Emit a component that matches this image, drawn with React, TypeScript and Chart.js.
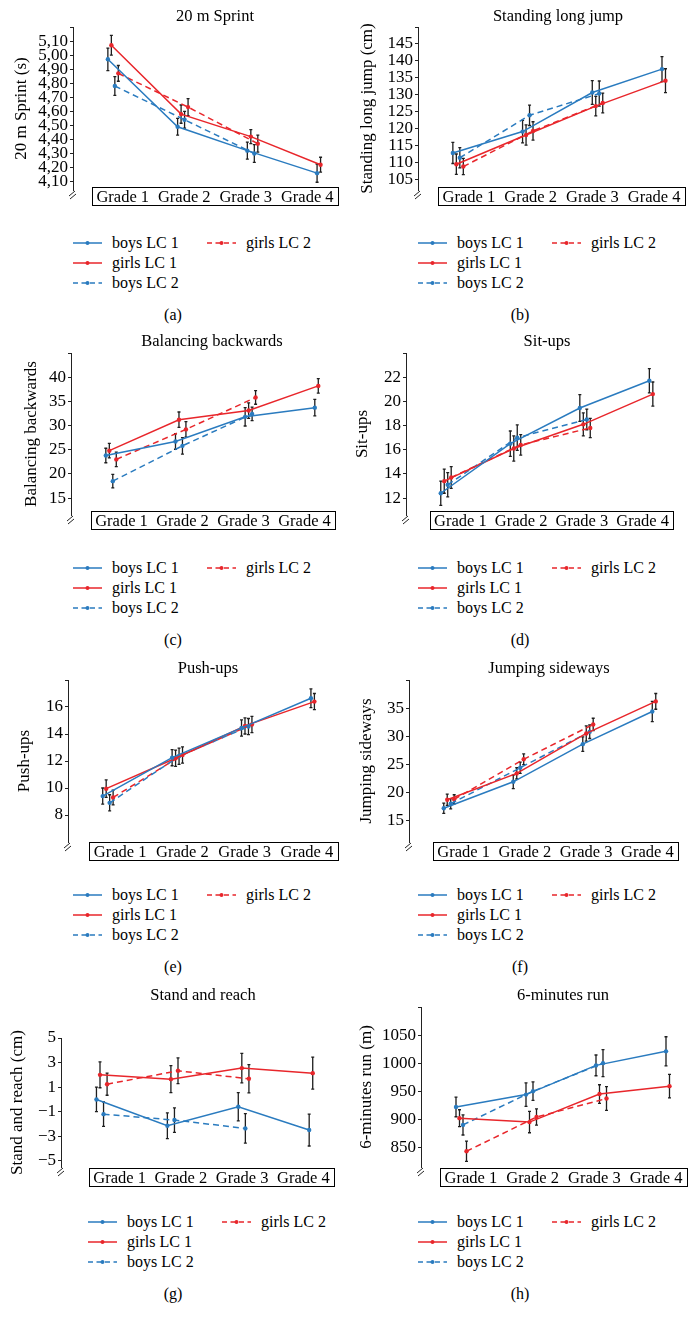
import React, { useEffect, useRef } from 'react';
import { Chart, registerables } from 'chart.js';

Chart.register(...registerables);

const FONT = '"Liberation Serif", "Times New Roman", serif';

const grades = ['Grade 1', 'Grade 2', 'Grade 3', 'Grade 4'];
const seriesNames = ['boys LC 1', 'girls LC 1', 'boys LC 2', 'girls LC 2'];
const seriesColors = ['#2a7bbf', '#e8262b', '#2a7bbf', '#e8262b'];
const seriesDashed = [false, false, true, true];
const seriesShift = [0, 0.05, 0.1, 0.15];
const captions = ['(a)', '(b)', '(c)', '(d)', '(e)', '(f)', '(g)', '(h)'];

// (a) 20 m Sprint — rows: boys LC 1, girls LC 1, boys LC 2, girls LC 2
const sprintMeans = [
  [4.97, 4.49, 4.32, 4.16],
  [5.07, 4.58, 4.42, 4.22],
  [4.78, 4.54, 4.3],
  [4.87, 4.63, 4.37],
];
const sprintErr = [
  [0.08, 0.06, 0.06, 0.065],
  [0.07, 0.065, 0.05, 0.053],
  [0.067, 0.06, 0.063],
  [0.056, 0.06, 0.06],
];
const sprintTicks = [4.1, 4.2, 4.3, 4.4, 4.5, 4.6, 4.7, 4.8, 4.9, 5.0, 5.1];

// (b) Standing long jump
const jumpMeans = [
  [112.9, 119.2, 130.7, 137.6],
  [109.6, 118.2, 126.7, 134.2],
  [111.5, 124.0, 130.4],
  [108.9, 119.4, 127.6],
];
const jumpErr = [
  [3.1, 3.3, 3.5, 3.7],
  [3.0, 3.0, 2.9, 3.5],
  [3.0, 3.0, 3.7],
  [2.4, 2.7, 2.9],
];
const jumpTicks = [105, 110, 115, 120, 125, 130, 135, 140, 145];

// (c) Balancing backwards
const balanceMeans = [
  [23.8, 26.7, 31.8, 33.7],
  [24.8, 31.2, 33.1, 38.2],
  [18.5, 25.8, 32.4],
  [23.0, 29.2, 35.8],
];
const balanceErr = [
  [1.5, 1.6, 1.9, 1.7],
  [1.5, 1.6, 1.6, 1.5],
  [1.4, 1.7, 1.4],
  [1.5, 1.6, 1.4],
];
const balanceTicks = [15, 20, 25, 30, 35, 40];

// (d) Sit-ups
const situpMeans = [
  [12.4, 16.5, 19.45, 21.7],
  [13.4, 16.1, 18.1, 20.6],
  [13.1, 17.0, 18.5],
  [13.7, 16.4, 17.8],
];
const situpErr = [
  [1.0, 1.05, 1.1, 1.0],
  [1.0, 1.05, 0.95, 1.0],
  [1.0, 1.05, 0.85],
  [0.9, 0.85, 0.8],
];
const situpTicks = [12, 14, 16, 18, 20, 22];

// (e) Push-ups
const pushupMeans = [
  [9.4, 12.25, 14.45, 16.65],
  [9.95, 12.2, 14.6, 16.4],
  [8.9, 12.35, 14.55],
  [9.3, 12.45, 14.7],
];
const pushupErr = [
  [0.6, 0.6, 0.6, 0.7],
  [0.65, 0.6, 0.6, 0.6],
  [0.6, 0.6, 0.6],
  [0.55, 0.6, 0.6],
];
const pushupTicks = [8, 10, 12, 14, 16];

// (f) Jumping sideways
const sidewaysMeans = [
  [17.2, 21.9, 28.6, 34.4],
  [18.7, 23.4, 30.5, 36.2],
  [18.0, 24.4, 30.8],
  [18.8, 25.9, 32.1],
];
const sidewaysErr = [
  [0.9, 1.2, 1.3, 1.8],
  [1.0, 1.0, 1.35, 1.4],
  [0.9, 1.0, 1.2],
  [0.8, 0.95, 1.1],
];
const sidewaysTicks = [15, 20, 25, 30, 35];

// (g) Stand and reach
const reachMeans = [
  [0.0, -2.14, -0.59, -2.49],
  [2.0, 1.65, 2.55, 2.14],
  [-1.2, -1.68, -2.36],
  [1.24, 2.33, 1.68],
];
const reachErr = [
  [1.0, 1.05, 1.15, 1.3],
  [1.05, 1.1, 1.2, 1.3],
  [1.0, 1.0, 1.2],
  [0.9, 1.05, 1.15],
];
const reachTicks = [-5, -3, -1, 1, 3, 5];

// (h) 6-minutes run
const runMeans = [
  [922, 944, 996, 1021],
  [902, 895, 945, 959],
  [890, 950, 1000],
  [843, 904, 937],
];
const runErr = [
  [17.5, 21, 18.5, 26],
  [15, 19, 16.5, 21],
  [18, 16.5, 24],
  [18, 14.5, 21],
];
const runTicks = [850, 900, 950, 1000, 1050];

const fmtComma = (v: number) => v.toFixed(2).replace('.', ',');
const fmtInt = (v: number) => String(v);
const fmtMinus = (v: number) => (v < 0 ? '\u2212' + Math.abs(v) : String(v));

// layout (page pixels)
const rowTops = [0, 325, 652, 979];
const boxTops = [187, 186, 190, 189];
const colCanvasLeft = [4, 349];
const CANVAS_W = 346;
const CANVAS_H = 212;

type Panel = {
  title: string;
  yTitle: string;
  means: number[][];
  err: number[][];
  ticks: number[];
  fmt: (v: number) => string;
  min: number;
  max: number;
  topTick: boolean;
  col: number;
  row: number;
  axisX: number;
  boxL: number;
  boxR: number;
  titleX: number;
  yTitleX: number;
  xMax: number;
  plotTop: number;
  plotBottom: number;
  legendX: number;
};

const panels: Panel[] = [
  { title: '20 m Sprint', yTitle: '20 m Sprint (s)', means: sprintMeans, err: sprintErr, ticks: sprintTicks, fmt: fmtComma, min: 4.04, max: 5.2, topTick: true, col: 0, row: 0, axisX: 73, boxL: 92, boxR: 338, titleX: 215, yTitleX: 22, xMax: 4.3, plotTop: 27, plotBottom: 190, legendX: 73 },
  { title: 'Standing long jump', yTitle: 'Standing long jump (cm)', means: jumpMeans, err: jumpErr, ticks: jumpTicks, fmt: fmtInt, min: 102, max: 150, topTick: true, col: 1, row: 0, axisX: 418, boxL: 438, boxR: 685, titleX: 558, yTitleX: 368, xMax: 4.33, plotTop: 27, plotBottom: 190, legendX: 418 },
  { title: 'Balancing backwards', yTitle: 'Balancing backwards', means: balanceMeans, err: balanceErr, ticks: balanceTicks, fmt: fmtInt, min: 11.5, max: 45, topTick: true, col: 0, row: 1, axisX: 71, boxL: 91, boxR: 335, titleX: 212, yTitleX: 32, xMax: 4.29, plotTop: 28, plotBottom: 190, legendX: 73 },
  { title: 'Sit-ups', yTitle: 'Sit-ups', means: situpMeans, err: situpErr, ticks: situpTicks, fmt: fmtInt, min: 10.6, max: 24, topTick: true, col: 1, row: 1, axisX: 406, boxL: 430, boxR: 673, titleX: 547, yTitleX: 363, xMax: 4.34, plotTop: 28, plotBottom: 190, legendX: 418 },
  { title: 'Push-ups', yTitle: 'Push-ups', means: pushupMeans, err: pushupErr, ticks: pushupTicks, fmt: fmtInt, min: 6, max: 18, topTick: true, col: 0, row: 2, axisX: 68, boxL: 89, boxR: 338, titleX: 208, yTitleX: 25, xMax: 4.39, plotTop: 28, plotBottom: 190, legendX: 73 },
  { title: 'Jumping sideways', yTitle: 'Jumping sideways', means: sidewaysMeans, err: sidewaysErr, ticks: sidewaysTicks, fmt: fmtInt, min: 11.2, max: 40, topTick: true, col: 1, row: 2, axisX: 409, boxL: 433, boxR: 678, titleX: 549, yTitleX: 367, xMax: 4.37, plotTop: 28, plotBottom: 190, legendX: 418 },
  { title: 'Stand and reach', yTitle: 'Stand and reach (cm)', means: reachMeans, err: reachErr, ticks: reachTicks, fmt: fmtMinus, min: -5.5, max: 5, topTick: false, col: 0, row: 3, axisX: 61, boxL: 89, boxR: 334, titleX: 203, yTitleX: 18, xMax: 4.35, plotTop: 59, plotBottom: 188, legendX: 88 },
  { title: '6-minutes run', yTitle: '6-minutes run (m)', means: runMeans, err: runErr, ticks: runTicks, fmt: fmtInt, min: 815, max: 1100, topTick: true, col: 1, row: 3, axisX: 421, boxL: 440, boxR: 687, titleX: 563, yTitleX: 367, xMax: 4.3, plotTop: 28, plotBottom: 188, legendX: 418 },
];

function PanelChart({ p }: { p: Panel }) {
  const ref = useRef<HTMLCanvasElement | null>(null);
  const cl = colCanvasLeft[p.col];
  const rowTop = rowTops[p.row];

  useEffect(() => {
    if (!ref.current) return;
    const datasets = p.means.map((vals, s) => ({
      label: seriesNames[s],
      data: vals.map((v, j) => ({ x: j + 1 + seriesShift[s], y: v })),
      borderColor: seriesColors[s],
      backgroundColor: seriesColors[s],
      pointBackgroundColor: seriesColors[s],
      pointBorderWidth: 0,
      pointRadius: 2.2,
      borderWidth: 1.5,
      borderDash: seriesDashed[s] ? [6, 4] : [],
      tension: 0,
      fill: false,
    }));

    const decor = {
      id: 'decor' + p.title,
      beforeDatasetsDraw(chart: any) {
        const ctx = chart.ctx;
        const ys = chart.scales.y;
        ctx.save();
        ctx.strokeStyle = '#1e1e1e';
        ctx.lineWidth = 1.3;
        p.means.forEach((vals, s) => {
          const meta = chart.getDatasetMeta(s);
          vals.forEach((v, j) => {
            const e = p.err[s][j];
            const el = meta.data[j];
            if (!el) return;
            const x = el.x;
            const y1 = ys.getPixelForValue(v + e);
            const y2 = ys.getPixelForValue(v - e);
            ctx.beginPath();
            ctx.moveTo(x, y1);
            ctx.lineTo(x, y2);
            ctx.moveTo(x - 1.5, y1);
            ctx.lineTo(x + 1.5, y1);
            ctx.moveTo(x - 1.5, y2);
            ctx.lineTo(x + 1.5, y2);
            ctx.stroke();
          });
        });
        ctx.restore();
      },
      afterDraw(chart: any) {
        const ctx = chart.ctx;
        const area = chart.chartArea;
        ctx.save();
        // chart title
        ctx.fillStyle = '#000';
        ctx.font = '16.5px ' + FONT;
        ctx.textAlign = 'center';
        ctx.textBaseline = 'middle';
        ctx.fillText(p.title, p.titleX - cl, 17);
        // axis break marks
        const ax = area.left;
        const by = area.bottom;
        ctx.strokeStyle = '#222';
        ctx.lineWidth = 1;
        ctx.beginPath();
        ctx.moveTo(ax - 4, by + 6);
        ctx.lineTo(ax + 2, by + 1);
        ctx.moveTo(ax - 3, by + 9);
        ctx.lineTo(ax + 3, by + 4);
        ctx.stroke();
        // category box
        const bl = p.boxL - cl;
        const br = p.boxR - cl;
        const bt = boxTops[p.row];
        const bh = 18;
        ctx.strokeStyle = '#000';
        ctx.lineWidth = 1;
        ctx.strokeRect(Math.round(bl) + 0.5, bt + 0.5, Math.round(br - bl), bh);
        ctx.font = '16.5px ' + FONT;
        ctx.textBaseline = 'alphabetic';
        const cw = (br - bl) / grades.length;
        grades.forEach((g, i) => {
          ctx.fillText(g, bl + cw * (i + 0.5), bt + 15);
        });
        ctx.restore();
      },
    };

    const lineHeight = 17 * 1.2;
    const chart = new Chart(ref.current, {
      type: 'line',
      data: { datasets },
      plugins: [decor],
      options: {
        animation: false,
        responsive: false,
        maintainAspectRatio: false,
        events: [],
        layout: {
          padding: {
            left: 0,
            top: p.plotTop,
            right: CANVAS_W - (p.boxR - cl),
            bottom: CANVAS_H - p.plotBottom,
          },
        },
        plugins: {
          legend: { display: false },
          tooltip: { enabled: false },
          title: { display: false },
        },
        scales: {
          x: { type: 'linear', min: 0.5, max: p.xMax, display: false },
          y: {
            type: 'linear',
            min: p.min,
            max: p.max,
            afterBuildTicks: (scale: any) => {
              const vals = [...p.ticks];
              if (p.topTick) vals.push(p.max);
              scale.ticks = vals.map((value) => ({ value }));
            },
            afterFit: (scale: any) => {
              scale.width = p.axisX - cl;
            },
            ticks: {
              autoSkip: false,
              padding: 2,
              color: '#000',
              font: { family: FONT, size: 17 },
              callback: (value: any) => (p.ticks.includes(value) ? p.fmt(value) : ''),
            },
            grid: {
              display: true,
              drawOnChartArea: false,
              drawTicks: true,
              tickLength: 3,
              color: '#222',
            },
            border: { display: true, color: '#222', width: 1 },
            title: {
              display: true,
              text: p.yTitle,
              color: '#000',
              font: { family: FONT, size: 17 },
              padding: { top: p.yTitleX - cl - lineHeight / 2, bottom: 0 },
            },
          },
        },
      } as any,
    });
    return () => chart.destroy();
  }, [p]);

  return (
    <canvas
      ref={ref}
      width={CANVAS_W}
      height={CANVAS_H}
      style={{ position: 'absolute', left: cl - 8, top: rowTop - 8, width: CANVAS_W, height: CANVAS_H }}
    />
  );
}

function LegendSample({ s }: { s: number }) {
  return (
    <svg width={30} height={10} style={{ display: 'block' }}>
      <line
        x1={0}
        y1={5}
        x2={29}
        y2={5}
        stroke={seriesColors[s]}
        strokeWidth={1.5}
        strokeDasharray={seriesDashed[s] ? '5 3.5' : undefined}
      />
      <circle cx={14.5} cy={5} r={2} fill={seriesColors[s]} />
    </svg>
  );
}

function PanelLegend({ p, idx }: { p: Panel; idx: number }) {
  const rowTop = rowTops[p.row];
  const slots = [
    { dx: 0, dy: 0 },
    { dx: 0, dy: 20 },
    { dx: 0, dy: 40 },
    { dx: 134, dy: 0 },
  ];
  const capX = p.col === 0 ? 173 : 520;
  return (
    <>
      {seriesNames.map((name, s) => (
        <div
          key={name}
          style={{
            position: 'absolute',
            left: p.legendX + slots[s].dx - 8,
            top: rowTop + 243 + slots[s].dy - 10 - 8,
            height: 20,
            display: 'flex',
            alignItems: 'center',
            fontFamily: FONT,
            fontSize: 16,
            whiteSpace: 'nowrap',
            color: '#000',
          }}
        >
          <LegendSample s={s} />
          <span style={{ marginLeft: 9, lineHeight: '20px' }}>{name}</span>
        </div>
      ))}
      <div
        style={{
          position: 'absolute',
          left: capX - 40 - 8,
          width: 80,
          textAlign: 'center',
          top: rowTop + 315 - 10 - 8,
          height: 20,
          lineHeight: '20px',
          fontFamily: FONT,
          fontSize: 16,
          color: '#000',
        }}
      >
        {captions[idx]}
      </div>
    </>
  );
}

export default function App() {
  return (
    <div style={{ position: 'relative', width: 683, height: 1313, background: '#fff' }}>
      {panels.map((p, i) => (
        <React.Fragment key={p.title}>
          <PanelChart p={p} />
          <PanelLegend p={p} idx={i} />
        </React.Fragment>
      ))}
    </div>
  );
}
